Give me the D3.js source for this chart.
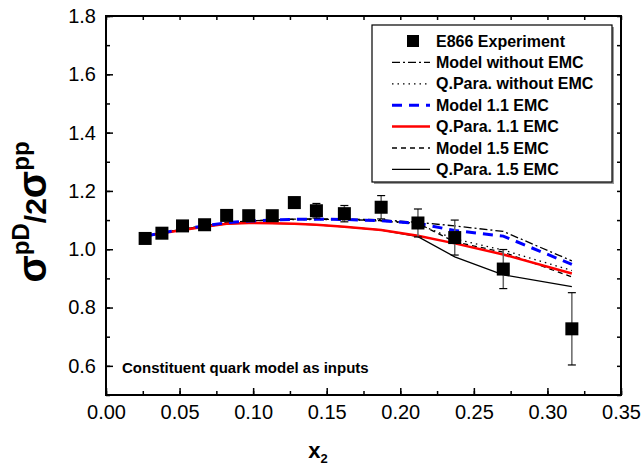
<!DOCTYPE html>
<html>
  <head>
    <meta charset="utf-8" />
    <script src="https://d3js.org/d3.v7.min.js"></script>
    <style>
      body { margin: 0; background: #fff; }
      text { font-family: "Liberation Sans", Arial, sans-serif; }
      .tick text { font-size: 20px; }
      .legend text { font-size: 16px; font-weight: bold; }
    </style>
  </head>
  <body>
    <svg id="chart" width="643" height="473"></svg>
    <script>

      // E866 data points
      var dataX   = [0.0266, 0.038, 0.052, 0.067, 0.082, 0.097, 0.113, 0.128, 0.143, 0.162, 0.187, 0.212, 0.237, 0.270, 0.3166];
      var dataY   = [1.037, 1.055, 1.080, 1.084, 1.116, 1.115, 1.115, 1.160, 1.132, 1.122, 1.144, 1.090, 1.040, 0.932, 0.727];
      var dataErr = [0.012, 0.012, 0.012, 0.012, 0.015, 0.015, 0.015, 0.018, 0.025, 0.028, 0.040, 0.048, 0.060, 0.067, 0.124];

      // model curves, evaluated at the same x2
      var modelNoEMC = [1.045, 1.056, 1.069, 1.080, 1.091, 1.097, 1.100, 1.103, 1.104, 1.104, 1.101, 1.092, 1.080, 1.061, 0.960];
      var qparaNoEMC = [1.045, 1.056, 1.069, 1.080, 1.091, 1.097, 1.100, 1.102, 1.102, 1.101, 1.097, 1.086, 1.035, 0.997, 0.927];
      var model11    = [1.045, 1.056, 1.069, 1.080, 1.091, 1.097, 1.100, 1.103, 1.103, 1.102, 1.098, 1.089, 1.064, 1.045, 0.948];
      var qpara11    = [1.045, 1.055, 1.066, 1.077, 1.087, 1.090, 1.089, 1.087, 1.084, 1.077, 1.066, 1.046, 1.020, 0.982, 0.917];
      var model15    = [1.045, 1.056, 1.069, 1.080, 1.091, 1.097, 1.100, 1.103, 1.103, 1.102, 1.098, 1.089, 1.025, 0.990, 0.905];
      var qpara15    = [1.045, 1.055, 1.066, 1.077, 1.087, 1.090, 1.089, 1.087, 1.084, 1.077, 1.066, 1.043, 0.974, 0.912, 0.872];

      var xTicks = [0, 0.05, 0.10, 0.15, 0.20, 0.25, 0.30, 0.35];
      var yTicks = [0.6, 0.8, 1.0, 1.2, 1.4, 1.6, 1.8];

      // legend order; z is drawing order
      var series = [
        { name: "Model without EMC",    values: modelNoEMC, color: "#000", width: 1.3, dash: "8,3,2,3", z: 2 },
        { name: "Q.Para. without EMC",  values: qparaNoEMC, color: "#000", width: 1.3, dash: "1.5,4",   z: 3 },
        { name: "Model 1.1 EMC",        values: model11,    color: "#0000ff", width: 3, dash: "10,7",   z: 5 },
        { name: "Q.Para. 1.1 EMC",      values: qpara11,    color: "#ff0000", width: 2.5, dash: null,   z: 4 },
        { name: "Model 1.5 EMC",        values: model15,    color: "#000", width: 1.3, dash: "5,4",     z: 1 },
        { name: "Q.Para. 1.5 EMC",      values: qpara15,    color: "#000", width: 1.3, dash: null,      z: 0 }
      ];

      var pLeft = 106, pRight = 621, pTop = 16, pBottom = 395;

      var svg = d3.select("#chart");

      var x = d3.scaleLinear().domain([0, 0.35]).range([pLeft, pRight]);
      var y = d3.scaleLinear().domain([0.5, 1.8]).range([pBottom, pTop]);

      var xMinor = d3.range(0, 0.351, 0.025);
      var yMinor = d3.range(0.5, 1.801, 0.1);

      // minor ticks on all four sides
      svg.append("g").attr("transform", "translate(0," + pBottom + ")")
        .call(d3.axisBottom(x).tickValues(xMinor).tickSize(-4).tickFormat(""));
      svg.append("g").attr("transform", "translate(0," + pTop + ")")
        .call(d3.axisTop(x).tickValues(xMinor).tickSize(-4).tickFormat(""));
      svg.append("g").attr("transform", "translate(" + pLeft + ",0)")
        .call(d3.axisLeft(y).tickValues(yMinor).tickSize(-4).tickFormat(""));
      svg.append("g").attr("transform", "translate(" + pRight + ",0)")
        .call(d3.axisRight(y).tickValues(yMinor).tickSize(-4).tickFormat(""));

      // major ticks with labels
      svg.append("g").attr("transform", "translate(0," + pBottom + ")")
        .call(d3.axisBottom(x).tickValues(xTicks).tickSize(-7).tickPadding(10).tickFormat(d3.format(".2f")));
      svg.append("g").attr("transform", "translate(" + pLeft + ",0)")
        .call(d3.axisLeft(y).tickValues(yTicks).tickSize(-7).tickPadding(10).tickFormat(d3.format(".1f")));

      svg.selectAll(".domain").remove();
      svg.selectAll(".tick line").attr("stroke", "#000").attr("stroke-width", 1.5);
      svg.selectAll(".tick text").attr("fill", "#000");

      svg.append("rect")
        .attr("x", pLeft).attr("y", pTop)
        .attr("width", pRight - pLeft).attr("height", pBottom - pTop)
        .attr("fill", "none").attr("stroke", "#000").attr("stroke-width", 2);

      // curves
      var line = d3.line()
        .x(function(d, i) { return x(dataX[i]); })
        .y(function(d) { return y(d); });

      var drawOrder = series.slice().sort(function(a, b) { return a.z - b.z; });

      svg.selectAll(".curve")
        .data(drawOrder)
        .enter().append("path")
        .attr("class", "curve")
        .attr("d", function(s) { return line(s.values); })
        .attr("fill", "none")
        .attr("stroke", function(s) { return s.color; })
        .attr("stroke-width", function(s) { return s.width; })
        .attr("stroke-dasharray", function(s) { return s.dash; });

      // error bars + markers
      var pts = dataX.map(function(d, i) { return { x: d, y: dataY[i], e: dataErr[i] }; });

      var eb = svg.selectAll(".err").data(pts).enter().append("g").attr("class", "err");
      eb.append("line")
        .attr("x1", function(d) { return x(d.x); })
        .attr("x2", function(d) { return x(d.x); })
        .attr("y1", function(d) { return y(d.y - d.e); })
        .attr("y2", function(d) { return y(d.y + d.e); })
        .attr("stroke", "#666").attr("stroke-width", 1.5);
      [-1, 1].forEach(function(sgn) {
        eb.append("line")
          .attr("x1", function(d) { return x(d.x) - 4; })
          .attr("x2", function(d) { return x(d.x) + 4; })
          .attr("y1", function(d) { return y(d.y + sgn * d.e); })
          .attr("y2", function(d) { return y(d.y + sgn * d.e); })
          .attr("stroke", "#000").attr("stroke-width", 1.2);
      });

      svg.selectAll(".pt").data(pts).enter().append("rect")
        .attr("class", "pt")
        .attr("x", function(d) { return x(d.x) - 6.5; })
        .attr("y", function(d) { return y(d.y) - 6.5; })
        .attr("width", 13).attr("height", 13)
        .attr("fill", "#000");

      // legend
      var lg = svg.append("g").attr("class", "legend");
      lg.append("rect")
        .attr("x", 374).attr("y", 27).attr("width", 240).attr("height", 157)
        .attr("fill", "#999");
      lg.append("rect")
        .attr("x", 372).attr("y", 25).attr("width", 240).attr("height", 157)
        .attr("fill", "#fff").attr("stroke", "#000").attr("stroke-width", 1.2);

      var rowH = 21.4, row0 = 41;
      lg.append("rect").attr("x", 407).attr("y", row0 - 6).attr("width", 12).attr("height", 12).attr("fill", "#000");
      lg.append("text").attr("x", 436).attr("y", row0 + 5.5).text("E866 Experiment");

      series.forEach(function(s, i) {
        var yy = row0 + rowH * (i + 1);
        lg.append("line")
          .attr("x1", 392).attr("x2", 430).attr("y1", yy).attr("y2", yy)
          .attr("stroke", s.color).attr("stroke-width", s.width)
          .attr("stroke-dasharray", s.dash);
        lg.append("text").attr("x", 436).attr("y", yy + 5.5).text(s.name);
      });

      // annotation
      svg.append("text")
        .attr("x", 122).attr("y", 373)
        .attr("font-size", 15).attr("font-weight", "bold")
        .text("Constituent quark model as inputs");

      // axis titles
      var xt = svg.append("text")
        .attr("x", 318).attr("y", 458)
        .attr("font-size", 22).attr("font-weight", "bold")
        .attr("text-anchor", "middle");
      xt.append("tspan").text("x");
      xt.append("tspan").attr("font-size", 13).attr("dy", 5).text("2");

      var yt = svg.append("text")
        .attr("transform", "translate(46,212) rotate(-90)")
        .attr("font-weight", "bold")
        .attr("text-anchor", "middle");
      yt.append("tspan").attr("font-size", 40).text("σ");
      yt.append("tspan").attr("font-size", 24).attr("dy", -17).text("pD");
      yt.append("tspan").attr("font-size", 30).attr("dy", 17).text("/2");
      yt.append("tspan").attr("font-size", 40).text("σ");
      yt.append("tspan").attr("font-size", 24).attr("dy", -17).text("pp");

    </script>
  </body>
</html>
